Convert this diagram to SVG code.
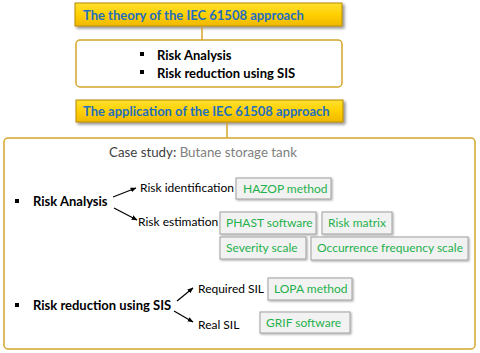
<svg xmlns="http://www.w3.org/2000/svg" width="480" height="353" viewBox="0 0 480 353">
<defs>
<linearGradient id="gold" x1="0" y1="0" x2="0" y2="1">
<stop offset="0" stop-color="#ffe033"/>
<stop offset="0.5" stop-color="#ffd000"/>
<stop offset="1" stop-color="#f0b800"/>
</linearGradient>
<filter id="sh" x="-10%" y="-30%" width="120%" height="170%">
<feGaussianBlur in="SourceAlpha" stdDeviation="1.5"/>
<feOffset dx="1.5" dy="2" result="b"/>
<feComponentTransfer><feFuncA type="linear" slope="0.45"/></feComponentTransfer>
<feMerge><feMergeNode/><feMergeNode in="SourceGraphic"/></feMerge>
</filter>
<filter id="sh2" x="-10%" y="-20%" width="120%" height="150%">
<feGaussianBlur in="SourceAlpha" stdDeviation="0.8"/>
<feOffset dx="1" dy="1"/>
<feComponentTransfer><feFuncA type="linear" slope="0.35"/></feComponentTransfer>
<feMerge><feMergeNode/><feMergeNode in="SourceGraphic"/></feMerge>
</filter>
<marker id="ah" viewBox="0 0 10 10" refX="9" refY="5" markerWidth="6" markerHeight="6" orient="auto" markerUnits="userSpaceOnUse">
<path d="M0,1 L10,5 L0,9 z" fill="#000"/>
</marker>
</defs>
<style>
text{font-family:Lato,"Liberation Sans",sans-serif;}
.title{fill:url(#gold);stroke:#b88a00;stroke-width:1;filter:url(#sh);}
.ttext{fill:#1f6fc0;font-weight:bold;font-size:13px;}
.frame{fill:#fff;stroke:#d4a52a;stroke-width:1.5;}
.link{stroke:#d4a52a;stroke-width:1.5;fill:none;}
.bold{font-weight:bold;font-size:13px;fill:#000;}
.lab{font-size:12px;fill:#000;}
.tool{fill:#f2f2f2;stroke:#a0a0a0;stroke-width:1;filter:url(#sh2);}
.gtext{font-size:12px;fill:#1fb14c;}
.arr{stroke:#000;stroke-width:1.2;fill:none;marker-end:url(#ah);}
.bul{fill:#000;}
</style>
<rect width="480" height="353" fill="#fff"/>

<g id="theory-title">
<rect class="title" x="75" y="3" width="267" height="23"/>
<text class="ttext" x="83" y="19.5">The theory of the IEC 61508 approach</text>
</g>

<g id="theory-box">
<rect class="frame" x="76" y="40" width="266" height="47" rx="4"/>
<rect class="bul" x="140" y="52" width="4" height="4"/>
<text class="bold" x="157" y="60">Risk Analysis</text>
<rect class="bul" x="140" y="70" width="4" height="4"/>
<text class="bold" x="157" y="78">Risk reduction using SIS</text>
</g>

<g id="application-title">
<rect class="title" x="76" y="100" width="267" height="22"/>
<text class="ttext" x="83" y="116">The application of the IEC 61508 approach</text>
</g>

<g id="application-box">
<rect class="frame" x="4" y="138" width="471" height="211" rx="4"/>
<text x="109" y="157" font-size="13.3px"><tspan fill="#404040">Case study:</tspan><tspan fill="#808080"> Butane storage tank</tspan></text>
<rect class="bul" x="15" y="199" width="4" height="4"/>
<text class="bold" x="33" y="206">Risk Analysis</text>
<rect class="bul" x="15" y="303" width="4" height="4"/>
<text class="bold" x="33" y="310">Risk reduction using SIS</text>
</g>

<g id="risk-identification">
<text class="lab" x="140" y="192">Risk identification</text>
</g>
<g id="hazop">
<rect class="tool" x="236" y="178" width="95" height="21"/>
<text class="gtext" x="243" y="193">HAZOP method</text>
</g>
<g id="risk-estimation">
<text class="lab" x="138" y="226">Risk estimation</text>
</g>
<g id="phast">
<rect class="tool" x="220" y="212" width="96" height="22"/>
<text class="gtext" x="226" y="227">PHAST software</text>
</g>
<g id="risk-matrix">
<rect class="tool" x="322" y="212" width="70" height="22"/>
<text class="gtext" x="328" y="227">Risk matrix</text>
</g>
<g id="severity">
<rect class="tool" x="220" y="237" width="86" height="22"/>
<text class="gtext" x="226" y="252">Severity scale</text>
</g>
<g id="occurrence">
<rect class="tool" x="311" y="237" width="157" height="23"/>
<text class="gtext" x="317" y="252">Occurrence frequency scale</text>
</g>
<g id="required-sil">
<text class="lab" x="198" y="293">Required SIL</text>
</g>
<g id="lopa">
<rect class="tool" x="268" y="278" width="84" height="22"/>
<text class="gtext" x="274" y="293">LOPA method</text>
</g>
<g id="real-sil">
<text class="lab" x="198" y="329">Real SIL</text>
</g>
<g id="grif">
<rect class="tool" x="260" y="312" width="90" height="21"/>
<text class="gtext" x="266" y="327">GRIF software</text>
</g>

<g id="connectors">
<line class="link" x1="202" y1="27" x2="202" y2="40"/>
<line class="link" x1="227" y1="123" x2="227" y2="138"/>
<line class="arr" x1="113" y1="197" x2="136" y2="188"/>
<line class="arr" x1="114" y1="208" x2="137" y2="220"/>
<line class="arr" x1="177" y1="301" x2="193" y2="288"/>
<line class="arr" x1="174" y1="311" x2="193" y2="322"/>
</g>
</svg>
